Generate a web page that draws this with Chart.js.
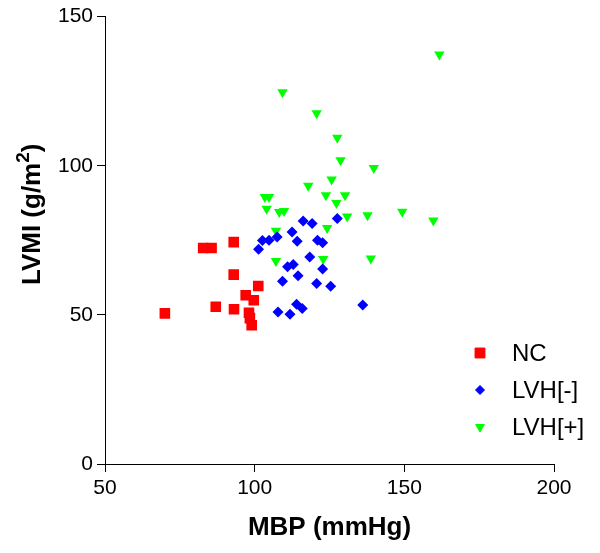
<!DOCTYPE html>
<html>
<head>
<meta charset="utf-8">
<script src="https://cdn.jsdelivr.net/npm/chart.js@4.4.0/dist/chart.umd.min.js"></script>
<style>
  html, body { margin: 0; padding: 0; background: #fff; }
  #wrap { width: 600px; height: 553px; position: relative; }
</style>
</head>
<body>
<div id="wrap"><canvas id="lvmiChart"></canvas></div>
<script>
// Axis ticks
const xTicks = [50, 100, 150, 200];
const yTicks = [0, 50, 100, 150];

// Series names
const seriesNames = ['NC', 'LVH[-]', 'LVH[+]'];

// NC group (MBP, LVMI)
const ncMBP  = [70, 82.8, 85.6, 93, 93, 87, 93.1, 101.2, 97, 99.7, 98.1, 98.4, 99];
const ncLVMI = [50.5, 72.4, 72.4, 74.4, 63.5, 52.7, 51.9, 59.7, 56.6, 54.9, 50.7, 48.9, 46.5];

// LVH[-] group
const lvhNegMBP  = [116.2, 119.2, 127.6, 112.5, 114.2, 107.5, 104.8, 102.6, 101.3, 121.0, 122.7, 118.4,
                    111.0, 112.9, 122.7, 114.5, 109.3, 120.7, 125.4, 114.0, 115.9, 107.8, 111.8, 136.1];
const lvhNegLVMI = [81.5, 80.6, 82.3, 77.8, 74.7, 76.1, 75.0, 74.9, 72.0, 75.0, 74.2, 69.4,
                    66.1, 66.9, 65.4, 63.1, 61.3, 60.5, 59.6, 53.6, 52.1, 51.0, 50.2, 53.3];

// LVH[+] group
const lvhPosMBP  = [161.7, 109.3, 120.7, 127.6, 128.7, 139.8, 125.7, 117.9, 103.4, 104.8, 123.8, 130.2, 127.3,
                    104.0, 108.2, 109.8, 130.9, 137.7, 149.3, 159.7, 107.1, 124.2, 107.1, 122.9, 138.8];
const lvhPosLVMI = [137.3, 124.6, 117.6, 109.4, 101.8, 99.2, 95.4, 93.3, 89.5, 89.5, 90.1, 90.1, 87.5,
                    85.6, 84.5, 84.8, 83.0, 83.4, 84.6, 81.6, 78.2, 79.1, 68.1, 68.7, 68.9];

function toPoints(xs, ys) {
    return xs.map((x, i) => ({ x: x, y: ys[i] }));
}

const FONT = '"Liberation Sans", Arial, sans-serif';

// Legend drawn inside the plot area, bottom right
const innerLegend = {
    id: 'innerLegend',
    afterDatasetsDraw(chart) {
        const ctx = chart.ctx;
        const sizes = [7, 4.5, 5];
        ctx.save();
        chart.data.datasets.forEach((ds, i) => {
            const y = 353 + i * 37;
            ctx.fillStyle = ds.backgroundColor;
            ctx.strokeStyle = ds.backgroundColor;
            Chart.helpers.drawPoint(ctx, {
                pointStyle: ds.pointStyle,
                radius: sizes[i],
                rotation: ds.rotation || 0,
                borderWidth: 1
            }, 480, y);
            ctx.fillStyle = '#000';
            ctx.font = '24px ' + FONT;
            ctx.textBaseline = 'middle';
            ctx.textAlign = 'left';
            ctx.fillText(ds.label, 512, y + 1);
        });
        ctx.restore();
    }
};

// Y axis title with a raised "2"
const yTitle = {
    id: 'yTitle',
    afterDraw(chart) {
        const ctx = chart.ctx;
        const area = chart.chartArea;
        const main = 'LVMI (g/m';
        const sup = '2';
        const tail = ')';
        ctx.save();
        ctx.fillStyle = '#000';
        ctx.font = 'bold 26px ' + FONT;
        const wMain = ctx.measureText(main).width;
        const wTail = ctx.measureText(tail).width;
        ctx.font = 'bold 19px ' + FONT;
        const wSup = ctx.measureText(sup).width;
        const total = wMain + wSup + wTail;
        ctx.translate(40, (area.top + area.bottom) / 2 - 26);
        ctx.rotate(-Math.PI / 2);
        ctx.textBaseline = 'alphabetic';
        ctx.textAlign = 'left';
        let x = -total / 2;
        ctx.font = 'bold 26px ' + FONT;
        ctx.fillText(main, x, 0);
        x += wMain;
        ctx.font = 'bold 19px ' + FONT;
        ctx.fillText(sup, x, -11);
        x += wSup;
        ctx.font = 'bold 26px ' + FONT;
        ctx.fillText(tail, x, 0);
        ctx.restore();
    }
};

const ctx = document.getElementById('lvmiChart').getContext('2d');
const lvmiChart = new Chart(ctx, {
    type: 'scatter',
    data: {
        datasets: [{
            label: seriesNames[0],
            data: toPoints(ncMBP, ncLVMI),
            pointStyle: 'rect',
            pointRadius: 7.5,
            backgroundColor: '#ff0000',
            borderColor: '#ff0000',
            borderWidth: 0
        }, {
            label: seriesNames[1],
            data: toPoints(lvhNegMBP, lvhNegLVMI),
            pointStyle: 'rectRot',
            pointRadius: 5.5,
            backgroundColor: '#0000ff',
            borderColor: '#0000ff',
            borderWidth: 0
        }, {
            label: seriesNames[2],
            data: toPoints(lvhPosMBP, lvhPosLVMI),
            pointStyle: 'triangle',
            rotation: 180,
            pointRotation: 180,
            pointRadius: 6,
            backgroundColor: '#00ff00',
            borderColor: '#00ff00',
            borderWidth: 0
        }]
    },
    options: {
        responsive: true,
        maintainAspectRatio: false,
        animation: false,
        layout: { padding: { top: 16, right: 46, left: 0, bottom: 0 } },
        plugins: {
            legend: { display: false },
            tooltip: { enabled: false }
        },
        scales: {
            x: {
                type: 'linear',
                min: xTicks[0],
                max: xTicks[xTicks.length - 1],
                afterBuildTicks(scale) {
                    scale.ticks = xTicks.map(v => ({ value: v }));
                },
                afterFit(scale) { scale.height = 89; },
                border: { color: '#000', width: 1 },
                grid: { drawOnChartArea: false, color: '#000', tickLength: 8 },
                ticks: { color: '#000', padding: 4, font: { family: FONT, size: 21 } },
                title: {
                    display: true,
                    text: 'MBP (mmHg)',
                    color: '#000',
                    padding: { top: 0, bottom: 10 },
                    font: { family: FONT, size: 26, weight: 'bold' }
                }
            },
            y: {
                type: 'linear',
                min: yTicks[0],
                max: yTicks[yTicks.length - 1],
                afterBuildTicks(scale) {
                    scale.ticks = yTicks.map(v => ({ value: v }));
                },
                afterFit(scale) { scale.width = 105; },
                border: { color: '#000', width: 1 },
                grid: { drawOnChartArea: false, color: '#000', tickLength: 8 },
                ticks: { color: '#000', padding: 4, font: { family: FONT, size: 21 } }
            }
        }
    },
    plugins: [innerLegend, yTitle]
});
</script>
</body>
</html>
